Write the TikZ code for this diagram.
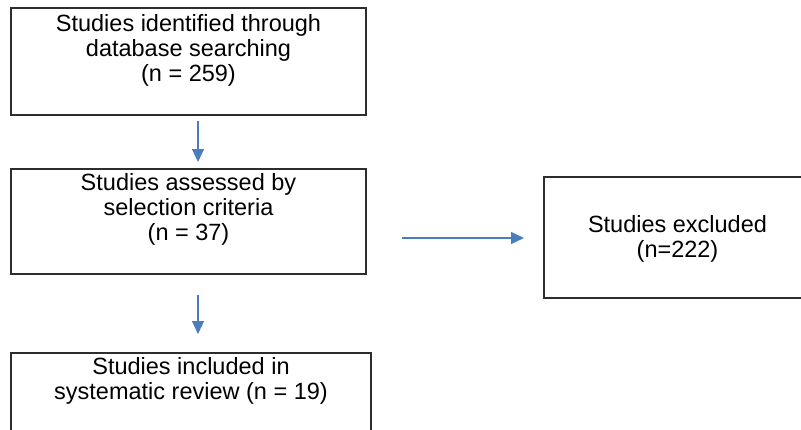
\documentclass[tikz,border=0pt]{standalone}
\usepackage{fontspec}
\setmainfont{Liberation Sans}
\usetikzlibrary{arrows.meta}
\definecolor{arrowblue}{RGB}{74,126,187}
\definecolor{boxline}{RGB}{45,45,45}
\begin{document}
\begin{tikzpicture}[x=1pt,y=-1pt,
  box/.style={draw=boxline,line width=1.3pt,inner sep=0pt,outer sep=0pt,anchor=north west,
    font=\fontsize{23.5}{25}\selectfont},
  arr/.style={draw=arrowblue,line width=1.2pt,-{Triangle[width=12pt,length=13pt]}}]
\useasboundingbox (0,0) rectangle (801,429);
\clip (0,0) rectangle (801,429);
\node[box] (b1) at (11,8) {\parbox[t][107pt][t]{355pt}{\centering\rule{0pt}{23pt}Studies identified through\\database searching\\(n = 259)}};
\node[box] (b2) at (11,169) {\parbox[t][105pt][t]{355pt}{\centering\rule{0pt}{21pt}Studies assessed by\\selection criteria\\(n = 37)}};
\node[box] (b3) at (11,353) {\parbox[t][110pt][t]{360pt}{\centering\rule{0pt}{21pt}Studies included in\\systematic review (n = 19)}};
\node[box] (b4) at (544,177) {\parbox[t][121pt][t]{267pt}{\centering\rule{0pt}{55pt}Studies excluded\\(n=222)}};
\coordinate (ax) at (198,0);
\coordinate (ay) at (0,238);
\draw[arr,shorten <=6pt,shorten >=7pt] (b1.south -| ax) -- (b2.north -| ax);
\draw[arr,shorten <=21pt,shorten >=19pt] (b2.south -| ax) -- (b3.north -| ax);
\draw[arr,shorten <=36pt,shorten >=20pt] (b2.east |- ay) -- (b4.west |- ay);
\end{tikzpicture}
\end{document}
